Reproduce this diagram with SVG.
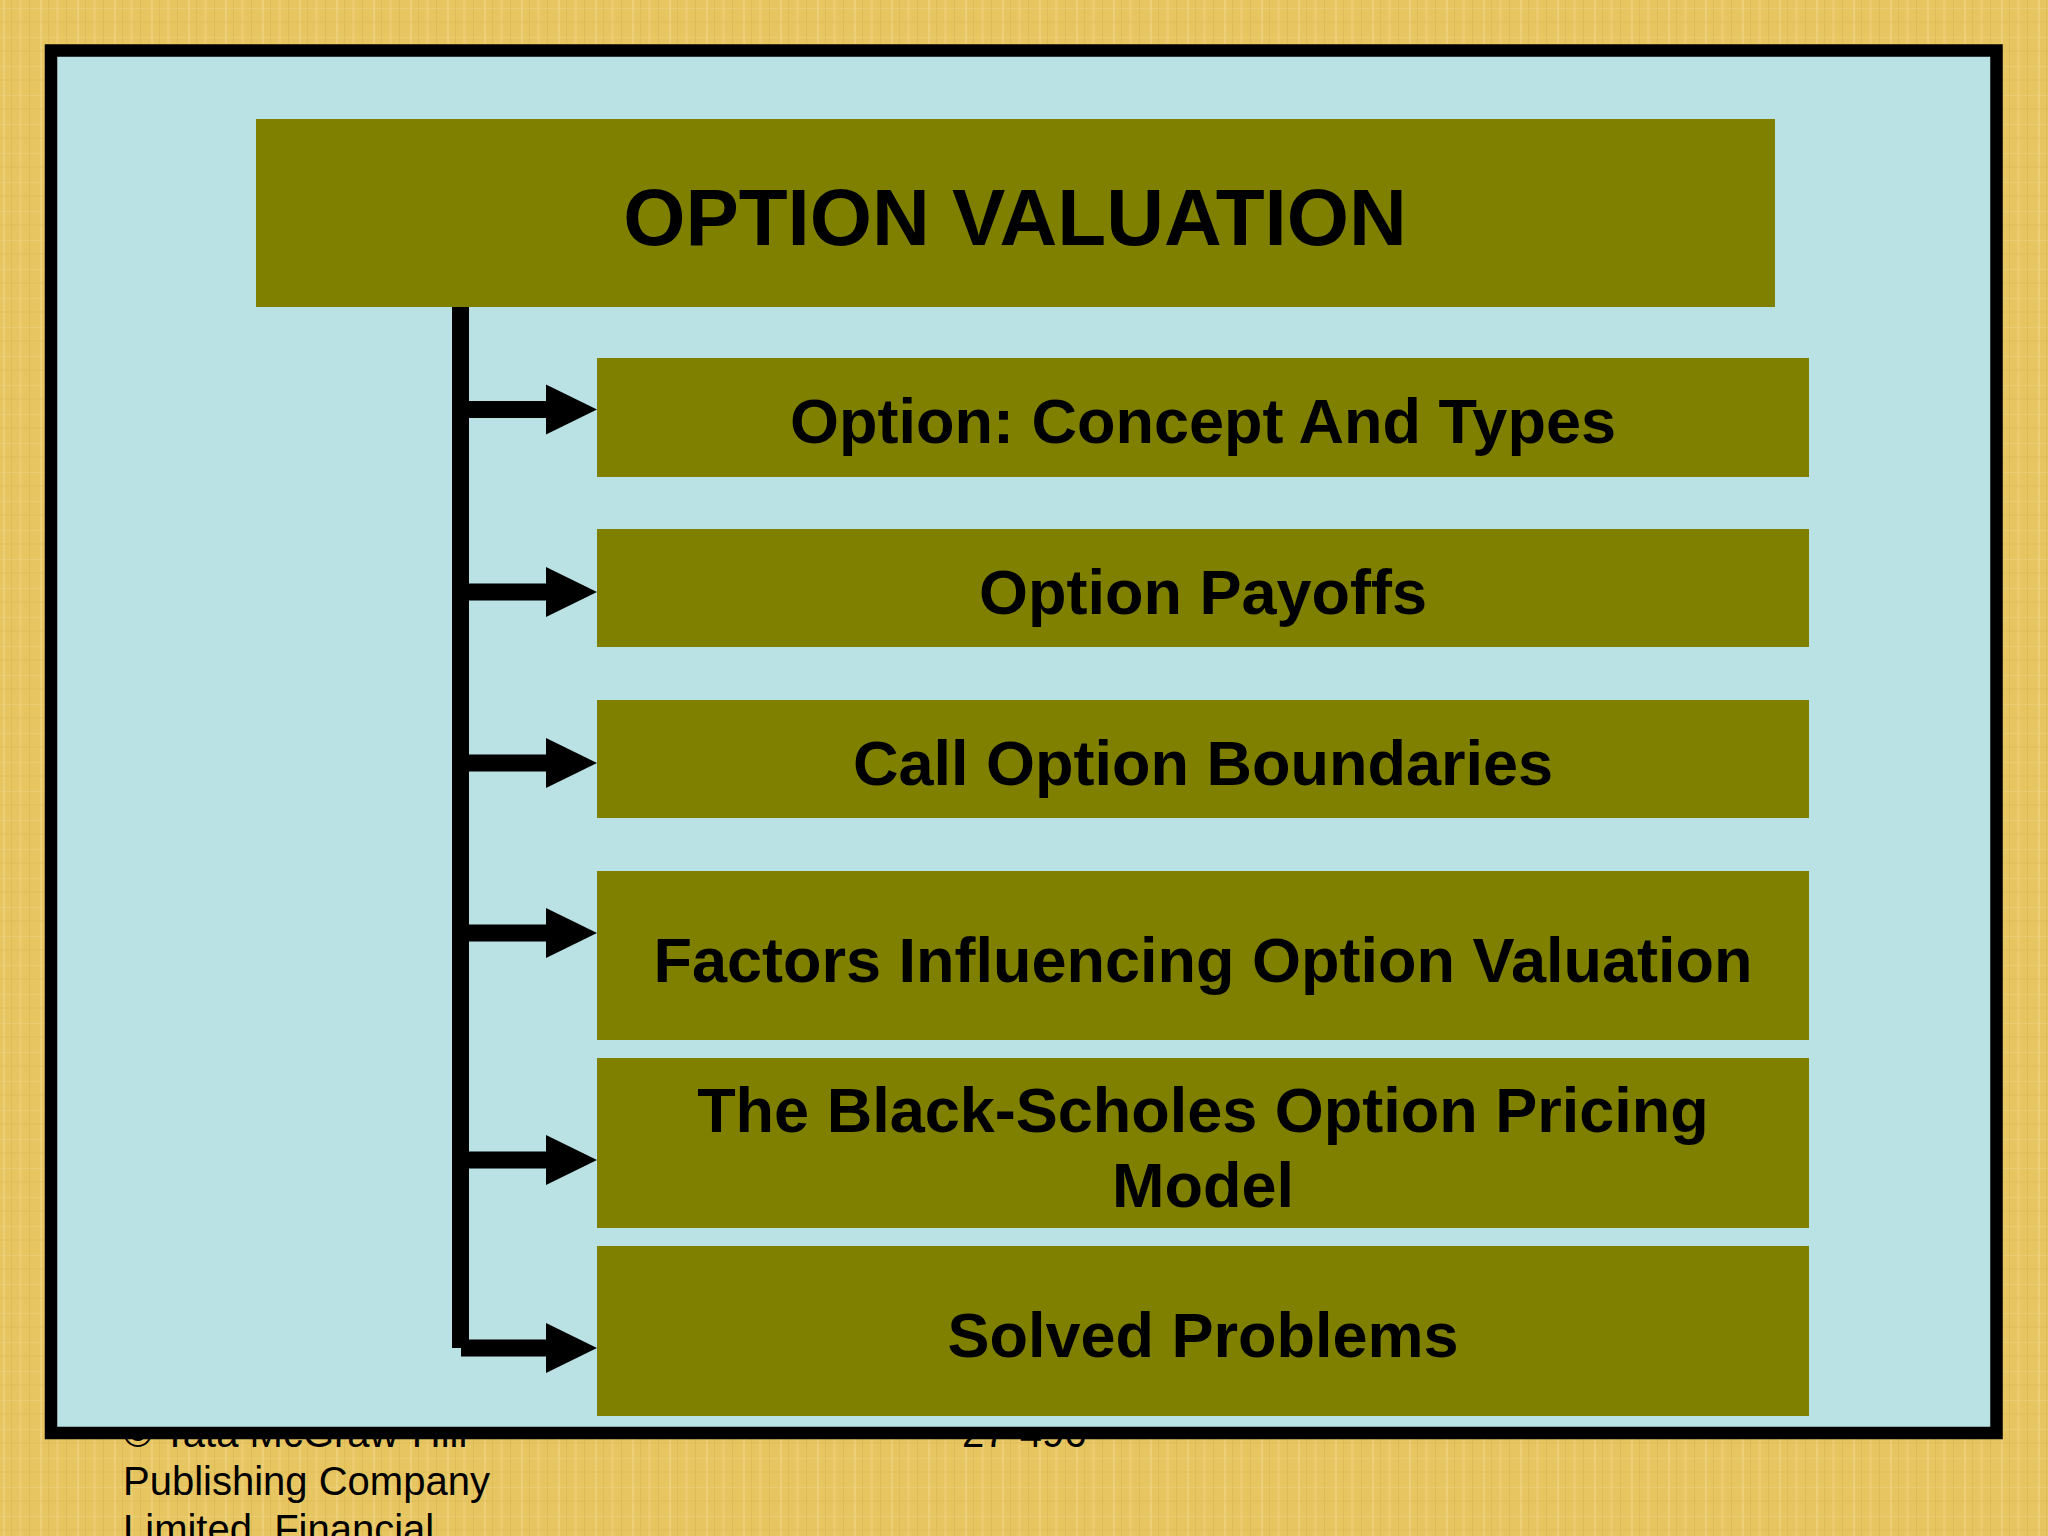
<svg xmlns="http://www.w3.org/2000/svg" width="2048" height="1536" viewBox="0 0 2048 1536">
  <defs>
    <pattern id="weave" width="37" height="29" patternUnits="userSpaceOnUse">
      <rect width="37" height="29" fill="#E7C561"/>
      <rect x="3" y="0" width="2" height="29" fill="#F2D98C" opacity="0.5"/>
      <rect x="11" y="0" width="1" height="29" fill="#D4AE45" opacity="0.4"/>
      <rect x="19" y="0" width="3" height="29" fill="#EFD37E" opacity="0.45"/>
      <rect x="29" y="0" width="1" height="29" fill="#CFA83F" opacity="0.35"/>
      <rect x="0" y="8" width="37" height="1" fill="#F3DC95" opacity="0.3"/>
      <rect x="0" y="21" width="37" height="2" fill="#D8B450" opacity="0.25"/>
    </pattern>
    <marker id="head" markerUnits="userSpaceOnUse" markerWidth="51" markerHeight="50" refX="2" refY="25" orient="auto" overflow="visible">
      <path d="M0,0 L51,25 L0,50 Z" fill="#000"/>
    </marker>
    <style>
      .box { fill: #808000; }
      .label { font-family: "Liberation Sans", Arial, sans-serif; font-weight: bold; font-size: 63px; fill: #000; text-anchor: middle; }
      .foot { font-family: "Liberation Sans", Arial, sans-serif; font-size: 40px; fill: #000; }
      .conn { stroke: #000; stroke-width: 17; fill: none; }
    </style>
  </defs>

  <rect width="2048" height="1536" fill="url(#weave)"/>

  <g id="footer">
    <text class="foot" x="123" y="1447">© Tata McGraw-Hill</text>
    <text class="foot" x="123" y="1495">Publishing Company</text>
    <text class="foot" x="123" y="1543">Limited, Financial</text>
    <text class="foot" x="962" y="1447">27-496</text>
  </g>

  <rect id="frame" x="51" y="50.5" width="1945.5" height="1382.5" fill="#BAE1E3" stroke="#000" stroke-width="12.5"/>

  <g id="title">
    <rect class="box" x="256" y="119" width="1519" height="188"/>
    <text class="label" x="1015" y="245" style="font-size:80px">OPTION VALUATION</text>
  </g>

  <g id="connectors">
    <line class="conn" x1="460.5" y1="307" x2="460.5" y2="1348"/>
    <line class="conn" x1="460.5" y1="409.5" x2="548" y2="409.5" marker-end="url(#head)"/>
    <line class="conn" x1="460.5" y1="592" x2="548" y2="592" marker-end="url(#head)"/>
    <line class="conn" x1="460.5" y1="763" x2="548" y2="763" marker-end="url(#head)"/>
    <line class="conn" x1="460.5" y1="933" x2="548" y2="933" marker-end="url(#head)"/>
    <line class="conn" x1="460.5" y1="1160" x2="548" y2="1160" marker-end="url(#head)"/>
    <line class="conn" x1="461" y1="1348" x2="548" y2="1348" marker-end="url(#head)"/>
  </g>

  <g id="node-concept">
    <rect class="box" x="597" y="358" width="1212" height="119"/>
    <text class="label" x="1203" y="443">Option: Concept And Types</text>
  </g>
  <g id="node-payoffs">
    <rect class="box" x="597" y="529" width="1212" height="118"/>
    <text class="label" x="1203" y="614">Option Payoffs</text>
  </g>
  <g id="node-boundaries">
    <rect class="box" x="597" y="700" width="1212" height="118"/>
    <text class="label" x="1203" y="785">Call Option Boundaries</text>
  </g>
  <g id="node-factors">
    <rect class="box" x="597" y="871" width="1212" height="169"/>
    <text class="label" x="1203" y="982">Factors Influencing Option Valuation</text>
  </g>
  <g id="node-blackscholes">
    <rect class="box" x="597" y="1058" width="1212" height="170"/>
    <text class="label" x="1203" y="1132">The Black-Scholes Option Pricing</text>
    <text class="label" x="1203" y="1207">Model</text>
  </g>
  <g id="node-solved">
    <rect class="box" x="597" y="1246" width="1212" height="170"/>
    <text class="label" x="1203" y="1357">Solved Problems</text>
  </g>
</svg>
